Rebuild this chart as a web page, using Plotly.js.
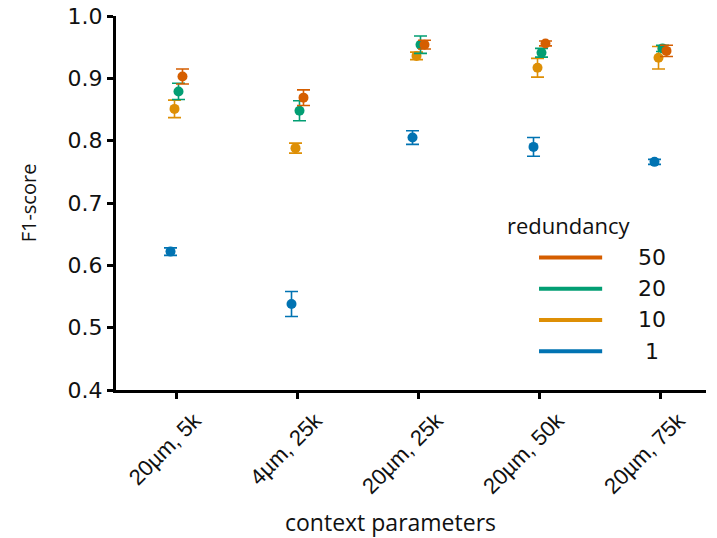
<!DOCTYPE html>
<html>
<head>
<meta charset="utf-8">
<script src="https://cdn.plot.ly/plotly-3.0.1.min.js"></script>
<style>html,body{margin:0;padding:0;background:#fff;}#chart{width:717px;height:538px;}</style>
</head>
<body>
<div id="chart"></div>
<script>
// Categories (x tick labels)
const categories = ["20µm, 5k", "4µm, 25k", "20µm, 25k", "20µm, 50k", "20µm, 75k"];

// Series: redundancy levels
const seriesNames = ["1", "10", "20", "50"];
const seriesColors = ["#0173b2", "#de8f05", "#029e73", "#d55e00"];

// F1-score means
const f1_r1  = [0.622, 0.538, 0.805, 0.790, 0.766];
const f1_r10 = [0.851, 0.788, 0.936, 0.917, 0.933];
const f1_r20 = [0.879, 0.848, 0.954, 0.941, 0.948];
const f1_r50 = [0.903, 0.869, 0.954, 0.956, 0.944];

// Error bar half-widths
const err_r1  = [0.006, 0.020, 0.011, 0.015, 0.004];
const err_r10 = [0.014, 0.008, 0.006, 0.015, 0.018];
const err_r20 = [0.013, 0.016, 0.014, 0.007, 0.005];
const err_r50 = [0.012, 0.0125, 0.007, 0.004, 0.009];

const seriesValues = [f1_r1, f1_r10, f1_r20, f1_r50];
const seriesErrors = [err_r1, err_r10, err_r20, err_r50];

const dodge = 0.033;
const traces = seriesValues.map((vals, i) => ({
  type: "scatter",
  mode: "markers",
  name: seriesNames[i],
  x: categories.map((c, j) => j + (i - 1.5) * dodge),
  y: vals,
  error_y: {type: "data", array: seriesErrors[i], visible: true,
            color: seriesColors[i], thickness: 1.6, width: 6.5},
  marker: {color: seriesColors[i], size: 10},
  showlegend: false,
  hoverinfo: "skip"
}));

const numFont = "DejaVu Sans, Liberation Sans, sans-serif";
const txtFont = "Open Sans, sans-serif";

// manual legend (top entry = last series)
const shapes = [];
const annotations = [];
const legX0 = 0.717, legX1 = 0.824, legTop = 0.354, legStep = 0.0834;
for (let k = 0; k < seriesNames.length; k++) {
  const i = seriesNames.length - 1 - k;
  const yy = legTop - k * legStep;
  shapes.push({type: "line", xref: "paper", yref: "paper", x0: legX0, x1: legX1, y0: yy, y1: yy,
               line: {color: seriesColors[i], width: 4}});
  annotations.push({xref: "paper", yref: "paper", x: 0.908, y: yy, text: seriesNames[i],
                    showarrow: false, xanchor: "center", yanchor: "middle",
                    font: {family: numFont, size: 22, color: "#111"}});
}
annotations.push({xref: "paper", yref: "paper", x: 0.768, y: 0.441, text: "redundancy",
                  showarrow: false, xanchor: "center", yanchor: "middle",
                  font: {family: txtFont, size: 22, color: "#111"}});
// x-axis title
annotations.push({xref: "paper", yref: "paper", x: 0.466, y: -0.353, text: "context parameters",
                  showarrow: false, xanchor: "center", yanchor: "middle",
                  font: {family: txtFont, size: 23, color: "#111"}});

const layout = {
  width: 717, height: 538,
  margin: {l: 116, r: 11, t: 16, b: 148},
  paper_bgcolor: "#fff", plot_bgcolor: "#fff",
  showlegend: false,
  xaxis: {
    range: [-0.5, 4.376],
    tickvals: categories.map((c, j) => j),
    ticktext: categories,
    tickangle: -45,
    ticklabelshift: 18,
    showline: true, linecolor: "#000", linewidth: 3,
    ticks: "outside", ticklen: 6, tickwidth: 3, tickcolor: "#000",
    showgrid: false, zeroline: false,
    tickfont: {family: "Liberation Sans, Arial, sans-serif", size: 22, color: "#111"}
  },
  yaxis: {
    range: [0.4, 1.0],
    dtick: 0.1, tick0: 0.4,
    tickformat: ".1f",
    showline: true, linecolor: "#000", linewidth: 3,
    ticks: "outside", ticklen: 6, tickwidth: 3, tickcolor: "#000",
    showgrid: false, zeroline: false,
    tickfont: {family: numFont, size: 22, color: "#111"},
    title: {text: "F1-score", standoff: 26,
            font: {family: txtFont, size: 20, color: "#111"}}
  },
  shapes: shapes,
  annotations: annotations
};

Plotly.newPlot("chart", traces, layout, {displayModeBar: false, staticPlot: true});
</script>
</body>
</html>
